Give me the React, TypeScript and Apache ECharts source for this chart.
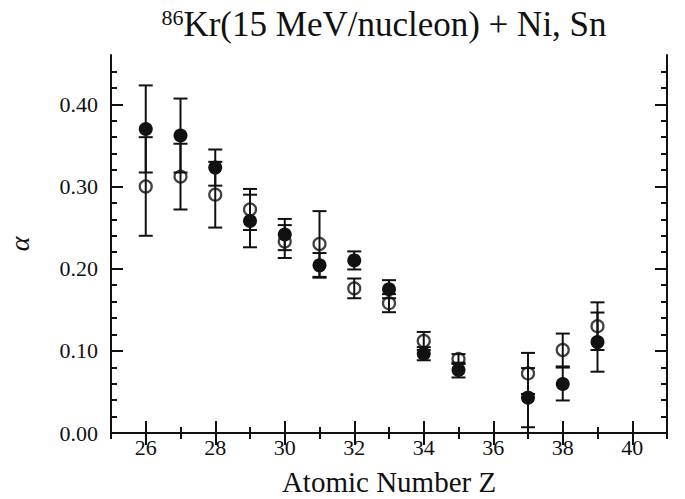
import React, { useEffect, useRef } from "react";
import * as echarts from "echarts";

const Z = [26, 27, 28, 29, 30, 31, 32, 33, 34, 35, 37, 38, 39];
const filledAlpha = [0.370, 0.362, 0.323, 0.258, 0.2415, 0.204, 0.210, 0.175, 0.0965, 0.0766, 0.043, 0.0596, 0.1106];
const filledErr = [0.053, 0.045, 0.022, 0.032, 0.019, 0.015, 0.011, 0.011, 0.008, 0.009, 0.036, 0.020, 0.036];
const openAlpha = [0.300, 0.312, 0.290, 0.272, 0.233, 0.230, 0.176, 0.158, 0.112, 0.090, 0.0725, 0.101, 0.130];
const openErr = [0.060, 0.040, 0.040, 0.025, 0.020, 0.040, 0.012, 0.011, 0.011, 0.006, 0.025, 0.020, 0.029];

const xMajorTicks = [26, 28, 30, 32, 34, 36, 38, 40];
const xMinorTicks = [25, 27, 29, 31, 33, 35, 37, 39, 41];
const yMajorTicks = [0, 0.1, 0.2, 0.3, 0.4];
const yMinorTicks = [0.02, 0.04, 0.06, 0.08, 0.12, 0.14, 0.16, 0.18, 0.22, 0.24, 0.26, 0.28, 0.32, 0.34, 0.36, 0.38, 0.42, 0.44];

const FONT = "'Liberation Serif', 'Times New Roman', serif";
const INK = "#111111";

export default function App() {
  const ref = useRef<HTMLDivElement>(null);
  useEffect(() => {
    if (!ref.current) return;
    const chart = echarts.init(ref.current, undefined, { renderer: "svg" });

    const errData = (v: number[], e: number[]) => Z.map((z, i) => [z, v[i] - e[i], v[i] + e[i]]);

    const errSeries = (data: number[][], name: string) => ({
      type: "custom",
      name,
      xAxisIndex: 0,
      yAxisIndex: 0,
      z: 1,
      encode: { x: 0, y: [1, 2] },
      data,
      renderItem: (params: any, api: any) => {
        const x = api.value(0);
        const lo = api.coord([x, api.value(1)]);
        const hi = api.coord([x, api.value(2)]);
        const hw = 7;
        const style = { stroke: INK, lineWidth: 2, fill: "none" };
        return {
          type: "group",
          children: [
            { type: "line", shape: { x1: lo[0], y1: lo[1], x2: hi[0], y2: hi[1] }, style },
            { type: "line", shape: { x1: lo[0] - hw, y1: lo[1], x2: lo[0] + hw, y2: lo[1] }, style },
            { type: "line", shape: { x1: hi[0] - hw, y1: hi[1], x2: hi[0] + hw, y2: hi[1] }, style },
          ],
        };
      },
    });

    const axisLine = { show: true, lineStyle: { color: INK, width: 2 } };
    const xBase = { type: "value", min: 25, max: 41, splitLine: { show: false } };
    const yBase = { type: "value", min: 0, max: 0.46, splitLine: { show: false } };

    chart.setOption({
      animation: false,
      backgroundColor: "#ffffff",
      grid: { left: 111, right: 18, top: 55, bottom: 66, containLabel: false, outerBoundsMode: "none" },
      graphic: [
        {
          type: "text",
          x: 384,
          y: 6,
          style: {
            text: "{sup|86}{m|Kr(15 MeV/nucleon) + Ni, Sn}",
            textAlign: "center",
            fill: INK,
            rich: {
              sup: { fontFamily: FONT, fontSize: 22, verticalAlign: "top", padding: [0, 0, 14, 0], fill: INK },
              m: { fontFamily: FONT, fontSize: 35, fill: INK },
            },
          },
        },
      ],
      xAxis: [
        {
          ...xBase,
          position: "bottom",
          axisLine,
          axisTick: { show: true, inside: true, length: 12, customValues: xMajorTicks, lineStyle: { color: INK, width: 2 } },
          axisLabel: { show: true, customValues: xMajorTicks, fontFamily: FONT, fontSize: 22, color: INK, margin: 3 },
          name: "Atomic Number Z",
          nameLocation: "middle",
          nameGap: 34,
          nameTextStyle: { fontFamily: FONT, fontSize: 29, color: INK },
        },
        {
          ...xBase,
          position: "bottom",
          axisLine: { show: false },
          axisTick: { show: true, inside: true, length: 6, customValues: xMinorTicks, lineStyle: { color: INK, width: 2 } },
          axisLabel: { show: false },
        },
        {
          ...xBase,
          position: "top",
          axisLine,
          axisTick: { show: true, inside: true, length: 12, customValues: xMajorTicks, lineStyle: { color: INK, width: 2 } },
          axisLabel: { show: false },
        },
        {
          ...xBase,
          position: "top",
          axisLine: { show: false },
          axisTick: { show: true, inside: true, length: 6, customValues: xMinorTicks, lineStyle: { color: INK, width: 2 } },
          axisLabel: { show: false },
        },
      ],
      yAxis: [
        {
          ...yBase,
          position: "left",
          axisLine,
          axisTick: { show: true, inside: true, length: 12, customValues: yMajorTicks, lineStyle: { color: INK, width: 2 } },
          axisLabel: {
            show: true,
            customValues: yMajorTicks,
            fontFamily: FONT,
            fontSize: 22,
            color: INK,
            margin: 13,
            formatter: (v: number) => v.toFixed(2),
          },
          name: "α",
          nameLocation: "middle",
          nameGap: 78,
          nameRotate: 90,
          nameTextStyle: { fontFamily: FONT, fontSize: 28, fontStyle: "italic", color: INK },
        },
        {
          ...yBase,
          position: "left",
          axisLine: { show: false },
          axisTick: { show: true, inside: true, length: 6, customValues: yMinorTicks, lineStyle: { color: INK, width: 2 } },
          axisLabel: { show: false },
        },
        {
          ...yBase,
          position: "right",
          axisLine,
          axisTick: { show: true, inside: true, length: 12, customValues: yMajorTicks, lineStyle: { color: INK, width: 2 } },
          axisLabel: { show: false },
        },
        {
          ...yBase,
          position: "right",
          axisLine: { show: false },
          axisTick: { show: true, inside: true, length: 6, customValues: yMinorTicks, lineStyle: { color: INK, width: 2 } },
          axisLabel: { show: false },
        },
      ],
      series: [
        errSeries(errData(openAlpha, openErr), "open-err"),
        errSeries(errData(filledAlpha, filledErr), "filled-err"),
        {
          type: "scatter",
          name: "open",
          xAxisIndex: 0,
          yAxisIndex: 0,
          z: 2,
          symbol: "circle",
          symbolSize: 12,
          itemStyle: { color: "rgba(0,0,0,0)", borderColor: INK, borderWidth: 2.2 },
          data: Z.map((z, i) => [z, openAlpha[i]]),
        },
        {
          type: "scatter",
          name: "filled",
          xAxisIndex: 0,
          yAxisIndex: 0,
          z: 3,
          symbol: "circle",
          symbolSize: 14,
          itemStyle: { color: INK, opacity: 1 },
          data: Z.map((z, i) => [z, filledAlpha[i]]),
        },
      ],
    });

    return () => chart.dispose();
  }, []);

  return <div ref={ref} style={{ position: "fixed", left: 0, top: 0, width: 685, height: 499 }} />;
}
